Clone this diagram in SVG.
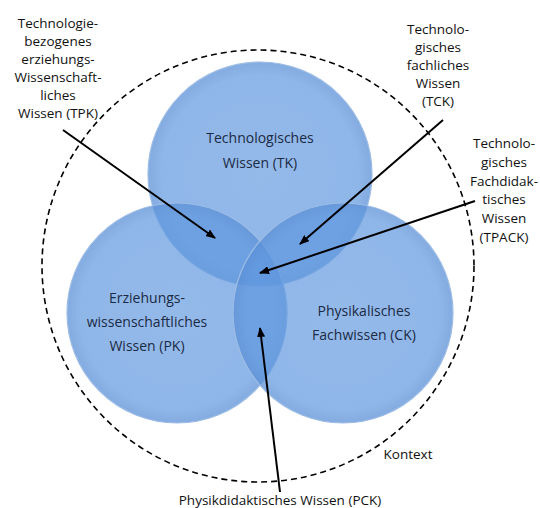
<svg xmlns="http://www.w3.org/2000/svg" width="540" height="508" viewBox="0 0 540 508">
  <style>
    .lbl { font-family: "Open Sans", "Noto Sans", "Liberation Sans", sans-serif; font-size: 13.5px; fill: #111; text-anchor: middle; }
    .in { font-family: "Open Sans", "Noto Sans", "Liberation Sans", sans-serif; font-size: 14px; fill: #1c2a44; text-anchor: middle; }
    .circ { fill: url(#blue); stroke: #9dbde6; stroke-width: 1.2; }
    .arr { stroke: #000; stroke-width: 2; fill: none; marker-end: url(#ah); }
  </style>
  <defs>
    <radialGradient id="blue" cx="0.5" cy="0.5" r="0.5">
      <stop offset="0" stop-color="#6199df" stop-opacity="0.68"/>
      <stop offset="0.88" stop-color="#5f97de" stop-opacity="0.7"/>
      <stop offset="1" stop-color="#5a8fd6" stop-opacity="0.75"/>
    </radialGradient>
    <marker id="ah" viewBox="0 0 10 8" refX="9" refY="4" markerWidth="10" markerHeight="8" markerUnits="userSpaceOnUse" orient="auto">
      <path d="M0,0 L10,4 L0,8 z" fill="#000"/>
    </marker>
  </defs>
  <rect width="540" height="508" fill="#fff"/>

  <g id="kontext">
    <circle cx="258" cy="266" r="216" fill="none" stroke="#000" stroke-width="1.6" stroke-dasharray="6 4"/>
    <text class="lbl" x="408" y="459">Kontext</text>
  </g>

  <g id="TK">
    <circle class="circ" cx="260" cy="174" r="112"/>
  </g>
  <g id="PK">
    <circle class="circ" cx="177" cy="313" r="110"/>
  </g>
  <g id="CK">
    <circle class="circ" cx="343" cy="313" r="110"/>
  </g>

  <g id="TK-label">
    <text class="in" x="260" y="143">Technologisches</text>
    <text class="in" x="260" y="168">Wissen (TK)</text>
  </g>
  <g id="PK-label">
    <text class="in" x="147" y="303">Erziehungs-</text>
    <text class="in" x="147" y="327">wissenschaftliches</text>
    <text class="in" x="147" y="351">Wissen (PK)</text>
  </g>
  <g id="CK-label">
    <text class="in" x="364" y="316">Physikalisches</text>
    <text class="in" x="364" y="340">Fachwissen (CK)</text>
  </g>

  <g id="TPK">
    <text class="lbl" x="58" y="28">Technologie-</text>
    <text class="lbl" x="58" y="46">bezogenes</text>
    <text class="lbl" x="58" y="64">erziehungs-</text>
    <text class="lbl" x="58" y="82">Wissenschaft-</text>
    <text class="lbl" x="58" y="100">liches</text>
    <text class="lbl" x="58" y="118">Wissen (TPK)</text>
  </g>
  <g id="TCK">
    <text class="lbl" x="438" y="34">Technolo-</text>
    <text class="lbl" x="438" y="52">gisches</text>
    <text class="lbl" x="438" y="70">fachliches</text>
    <text class="lbl" x="438" y="88">Wissen</text>
    <text class="lbl" x="438" y="106">(TCK)</text>
  </g>
  <g id="TPACK">
    <text class="lbl" x="504" y="148">Technolo-</text>
    <text class="lbl" x="504" y="167">gisches</text>
    <text class="lbl" x="504" y="186">Fachdidak-</text>
    <text class="lbl" x="504" y="204">tisches</text>
    <text class="lbl" x="504" y="223">Wissen</text>
    <text class="lbl" x="504" y="242">(TPACK)</text>
  </g>
  <g id="PCK">
    <text class="lbl" x="280" y="505">Physikdidaktisches Wissen (PCK)</text>
  </g>

  <g id="connectors">
    <line class="arr" x1="63" y1="130" x2="215" y2="238"/>
    <line class="arr" x1="443" y1="120" x2="300" y2="244"/>
    <line class="arr" x1="475" y1="201" x2="260" y2="273"/>
    <line class="arr" x1="280" y1="492" x2="260" y2="328"/>
  </g>
</svg>
